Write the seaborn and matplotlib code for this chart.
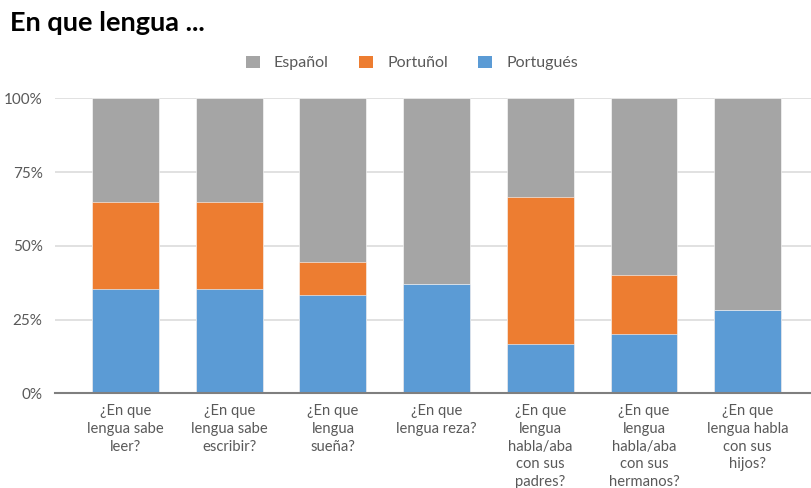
import matplotlib
matplotlib.use("Agg")
import matplotlib.pyplot as plt
import seaborn as sns
import numpy as np
from matplotlib.patches import Patch

# Survey questions (x categories)
categories = [
    "¿En que\nlengua sabe\nleer?",
    "¿En que\nlengua sabe\nescribir?",
    "¿En que\nlengua\nsueña?",
    "¿En que\nlengua reza?",
    "¿En que\nlengua\nhabla/aba\ncon sus\npadres?",
    "¿En que\nlengua\nhabla/aba\ncon sus\nhermanos?",
    "¿En que\nlengua habla\ncon sus\nhijos?",
]

# Share of answers per language (percent)
portugues = [35.3, 35.3, 33.3, 37.2, 16.7, 20.1, 28.3]
portunol = [29.4, 29.4, 11.2, 0.0, 50.0, 20.0, 0.0]
espanol = [35.3, 35.3, 55.5, 62.8, 33.3, 59.9, 71.7]

series_names = ["Español", "Portuñol", "Portugués"]
colors = {"Español": "#A5A5A5", "Portuñol": "#ED7D31", "Portugués": "#5B9BD5"}
y_ticks = [0, 25, 50, 75, 100]
y_tick_labels = ["0%", "25%", "50%", "75%", "100%"]

sns.set_theme(style="white")
plt.rcParams["font.family"] = ["Lato", "DejaVu Sans"]

fig = plt.figure(figsize=(8.11, 4.88), dpi=100)
ax = fig.add_axes([55 / 811, 0.194, (811 - 55) / 811, 0.6046])

p = np.array(portugues)
o = np.array(portunol)
e = np.array(espanol)
layers = [
    ("Español", p + o + e),
    ("Portuñol", p + o),
    ("Portugués", p),
]
for name, tops in layers:
    sns.barplot(x=categories, y=tops, color=colors[name], width=0.645,
                saturation=1, ax=ax, zorder=2, edgecolor="white", linewidth=0.4)

ax.set_ylim(0, 100)
ax.set_xlim(-0.68, 6.61)
ax.set_yticks(y_ticks)
ax.set_yticklabels(y_tick_labels)
ax.yaxis.grid(True, color="#D9D9D9", linewidth=1.1, zorder=0)
ax.set_axisbelow(True)
for side in ["top", "right", "left"]:
    ax.spines[side].set_visible(False)
ax.spines["bottom"].set_color("#7F7F7F")
ax.spines["bottom"].set_linewidth(1.5)
ax.spines["bottom"].set_zorder(3)
ax.tick_params(axis="x", length=0, labelsize=10.6, colors="#595959", pad=8)
ax.tick_params(axis="y", length=0, labelsize=11, colors="#595959", pad=9)
for lbl in ax.get_xticklabels():
    lbl.set_linespacing(1.33)
ax.set_xlabel("")
ax.set_ylabel("")

fig.text(0.012, 0.953, "En que lengua ...", fontsize=19.5, fontweight="bold",
         color="black", ha="left", va="center")

handles = [Patch(facecolor=colors[n], edgecolor="none") for n in series_names]
fig.legend(handles, series_names, loc="center", bbox_to_anchor=(0.508, 0.871),
           ncol=3, frameon=False, fontsize=11.5, labelcolor="#595959",
           handlelength=0.85, handleheight=0.85, handletextpad=0.9,
           columnspacing=1.9)

fig.savefig("out.png", dpi=100)
